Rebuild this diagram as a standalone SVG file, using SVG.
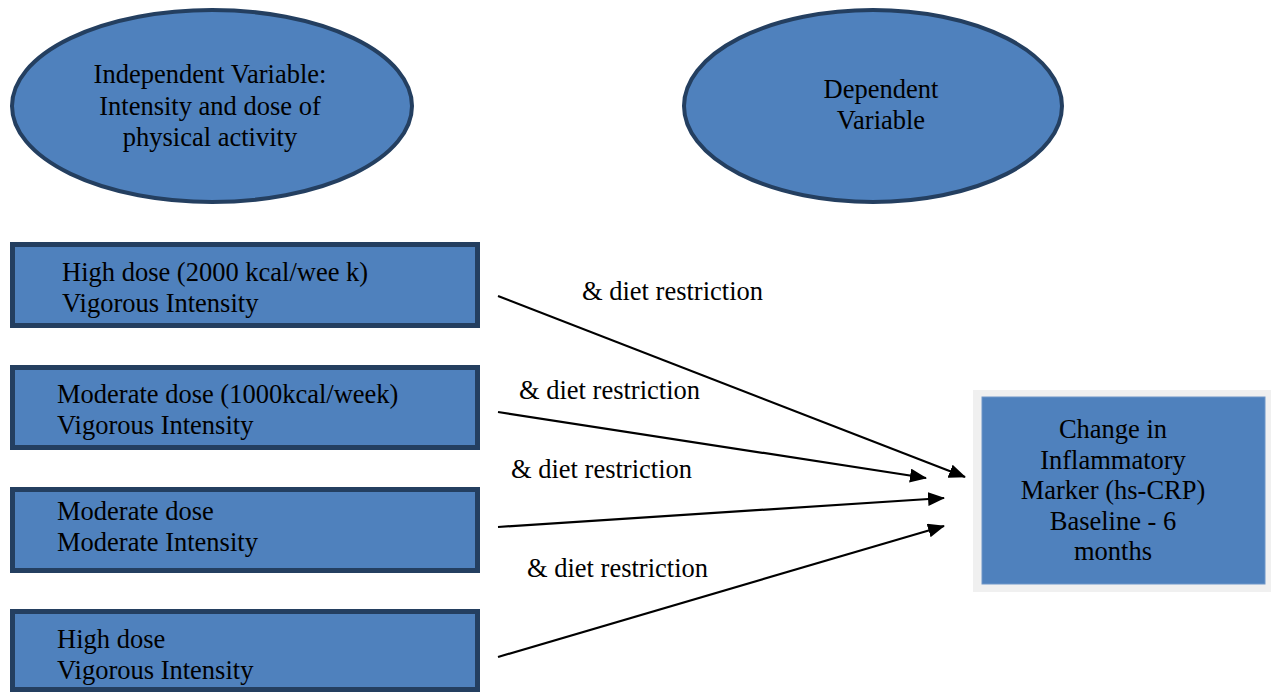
<svg xmlns="http://www.w3.org/2000/svg" width="1271" height="692" viewBox="0 0 1271 692">
<style>
.node{fill:#4f81bd;stroke:#243f60;}
.el{stroke-width:4;}
.bx{stroke-width:5;}
text{font-family:"Liberation Serif","Times New Roman",serif;font-size:26.5px;fill:#000;}
.c{text-anchor:middle;}
.conn{stroke:#000;stroke-width:2.2;fill:none;marker-end:url(#ah);}
</style>
<defs>
<marker id="ah" markerWidth="17" markerHeight="14" refX="16" refY="7" orient="auto" markerUnits="userSpaceOnUse">
<path d="M0,0 L17,7 L0,14 Z" fill="#000"/>
</marker>
</defs>
<rect width="1271" height="692" fill="#fff"/>
<g id="iv">
<ellipse class="node el" cx="212" cy="106" rx="200" ry="96"/>
<text class="c" x="210" y="83">Independent Variable:</text>
<text class="c" x="210" y="114.5">Intensity and dose of</text>
<text class="c" x="210" y="146">physical activity</text>
</g>
<g id="dv">
<ellipse class="node el" cx="873" cy="106" rx="189" ry="96"/>
<text class="c" x="881" y="98">Dependent</text>
<text class="c" x="881" y="129">Variable</text>
</g>
<g id="n1">
<rect class="node bx" x="12.5" y="244.5" width="465" height="81"/>
<text x="62" y="281">High dose (2000 kcal/wee k)</text>
<text x="62" y="312">Vigorous Intensity</text>
</g>
<g id="n2">
<rect class="node bx" x="12.5" y="367.5" width="465" height="80"/>
<text x="57" y="403">Moderate dose (1000kcal/week)</text>
<text x="57" y="434">Vigorous Intensity</text>
</g>
<g id="n3">
<rect class="node bx" x="12.5" y="489.5" width="465" height="81"/>
<text x="57" y="520">Moderate dose</text>
<text x="57" y="551">Moderate Intensity</text>
</g>
<g id="n4">
<rect class="node bx" x="12.5" y="611.5" width="465" height="78"/>
<text x="57" y="648">High dose</text>
<text x="57" y="679">Vigorous Intensity</text>
</g>
<g id="outcome">
<rect x="973" y="390" width="300" height="202" fill="#f0f0f0"/>
<rect x="982" y="397" width="283" height="187" fill="#4f81bd" stroke="#6f96c8" stroke-width="1"/>
<text class="c" x="1113" y="438">Change in</text>
<text class="c" x="1113" y="469">Inflammatory</text>
<text class="c" x="1113" y="499">Marker (hs-CRP)</text>
<text class="c" x="1113" y="530">Baseline - 6</text>
<text class="c" x="1113" y="560">months</text>
</g>
<g id="connectors">
<line class="conn" x1="498" y1="296" x2="965" y2="477"/>
<line class="conn" x1="498" y1="412" x2="926" y2="478"/>
<line class="conn" x1="498" y1="527" x2="944" y2="498"/>
<line class="conn" x1="498" y1="657" x2="944" y2="526"/>
<text x="582" y="300">&amp; diet restriction</text>
<text x="519" y="399">&amp; diet restriction</text>
<text x="511" y="478">&amp; diet restriction</text>
<text x="527" y="577">&amp; diet restriction</text>
</g>
</svg>
